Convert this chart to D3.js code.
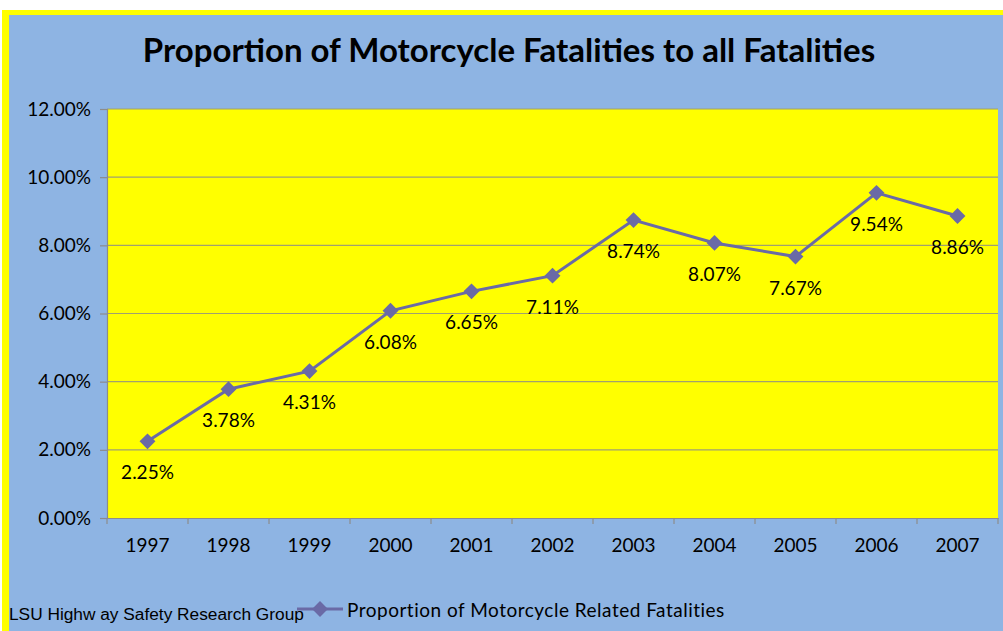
<!DOCTYPE html>
<html>
<head>
<meta charset="utf-8">
<script src="https://cdn.jsdelivr.net/npm/d3@7"></script>
<style>
  body { margin: 0; background: #fff; }
  svg { display: block; }
  text { font-family: Lato, "Noto Sans", sans-serif; fill: #000; }
</style>
</head>
<body>
<svg width="1003" height="631"></svg>
<script>
// chart values
var years = ['1997', '1998', '1999', '2000', '2001', '2002', '2003', '2004', '2005', '2006', '2007'];
var proportions = [2.25, 3.78, 4.31, 6.08, 6.65, 7.11, 8.74, 8.07, 7.67, 9.54, 8.86];
var yTicks = [0, 2, 4, 6, 8, 10, 12];

var svg = d3.select('svg');

var svgWidth = +svg.attr('width');
var svgHeight = +svg.attr('height');

// plot area bounds
var plot = {l: 107, r: 998, t: 109, b: 518};

var lineColor = '#6A6AA6';

// outer frame: yellow border then blue chart area
svg.append('rect')
    .attr('x', 2).attr('y', 10)
    .attr('width', svgWidth - 2).attr('height', svgHeight - 10)
    .attr('fill', '#FFFF00');
svg.append('rect')
    .attr('x', 9).attr('y', 15)
    .attr('width', svgWidth - 9).attr('height', svgHeight - 15)
    .attr('fill', '#8EB4E3');

// scales
var x = d3.scaleBand()
    .domain(years)
    .range([plot.l, plot.r]);

var y = d3.scaleLinear()
    .domain([0, 12])
    .range([plot.b, plot.t]);

// yellow plot area
svg.append('rect')
    .attr('x', plot.l).attr('y', plot.t)
    .attr('width', plot.r - plot.l).attr('height', plot.b - plot.t)
    .attr('fill', '#FFFF00');

// gridlines
svg.append('g')
    .selectAll('line')
    .data(yTicks.filter(function(d) { return d > 0; }))
    .enter().append('line')
    .attr('x1', plot.l).attr('x2', plot.r)
    .attr('y1', function(d) { return y(d); })
    .attr('y2', function(d) { return y(d); })
    .attr('stroke', '#A0A070')
    .attr('stroke-width', 1.2);

// y axis
var yAxis = d3.axisLeft(y)
    .tickValues(yTicks)
    .tickSize(7)
    .tickPadding(9)
    .tickFormat(function(d) { return d.toFixed(2) + '%'; });

var yG = svg.append('g')
    .attr('transform', 'translate(' + plot.l + ',0)')
    .call(yAxis);
yG.selectAll('.domain, line').attr('stroke', '#8C8C8C').attr('stroke-width', 1.2);
yG.selectAll('text').style('font-size', '19px').attr('fill', '#000');

// x axis, ticks on the category boundaries
var xAxis = d3.axisBottom(x)
    .tickSize(0)
    .tickPadding(21);

var xG = svg.append('g')
    .attr('transform', 'translate(0,' + plot.b + ')')
    .call(xAxis);
xG.select('.domain').attr('stroke', '#8C8C8C').attr('stroke-width', 1.2);
xG.selectAll('text').style('font-size', '19px').attr('fill', '#000');

xG.selectAll('.bound')
    .data(years.concat(['end']))
    .enter().append('line')
    .attr('class', 'bound')
    .attr('x1', function(d, i) { return plot.l + i * x.step(); })
    .attr('x2', function(d, i) { return plot.l + i * x.step(); })
    .attr('y1', 0).attr('y2', 6)
    .attr('stroke', '#8C8C8C')
    .attr('stroke-width', 1.2);

// line
var points = years.map(function(d, i) {
    return {year: d, value: proportions[i]};
});

var line = d3.line()
    .x(function(d) { return x(d.year) + x.bandwidth() / 2; })
    .y(function(d) { return y(d.value); });

svg.append('path')
    .datum(points)
    .attr('d', line)
    .attr('fill', 'none')
    .attr('stroke', lineColor)
    .attr('stroke-width', 3);

var diamond = d3.symbol().type(d3.symbolDiamond2).size(160);

svg.append('g')
    .selectAll('path')
    .data(points)
    .enter().append('path')
    .attr('d', diamond)
    .attr('transform', function(d) {
        return 'translate(' + (x(d.year) + x.bandwidth() / 2) + ',' + y(d.value) + ')';
    })
    .attr('fill', lineColor);

// data labels below each point
svg.append('g')
    .selectAll('text')
    .data(points)
    .enter().append('text')
    .attr('x', function(d) { return x(d.year) + x.bandwidth() / 2; })
    .attr('y', function(d) { return y(d.value) + 38; })
    .attr('text-anchor', 'middle')
    .style('font-size', '19px')
    .text(function(d) { return d.value.toFixed(2) + '%'; });

// title
svg.append('text')
    .attr('x', 509)
    .attr('y', 62)
    .attr('text-anchor', 'middle')
    .style('font-size', '33px')
    .style('font-weight', 'bold')
    .text('Proportion of Motorcycle Fatalities to all Fatalities');

// credit
svg.append('text')
    .attr('x', 9)
    .attr('y', 620)
    .style('font-family', '"Liberation Sans", Arial, sans-serif')
    .style('font-size', '17.3px')
    .text('LSU Highw ay Safety Research Group');

// legend
var legend = svg.append('g').attr('transform', 'translate(297,609)');
legend.append('line')
    .attr('x1', 0).attr('x2', 46)
    .attr('y1', 0).attr('y2', 0)
    .attr('stroke', lineColor)
    .attr('stroke-width', 3);
legend.append('path')
    .attr('d', diamond)
    .attr('transform', 'translate(23,0)')
    .attr('fill', lineColor);
legend.append('text')
    .attr('x', 50)
    .attr('y', 8)
    .style('font-size', '19px')
    .style('letter-spacing', '0.5px')
    .text('Proportion of Motorcycle Related Fatalities');
</script>
</body>
</html>
